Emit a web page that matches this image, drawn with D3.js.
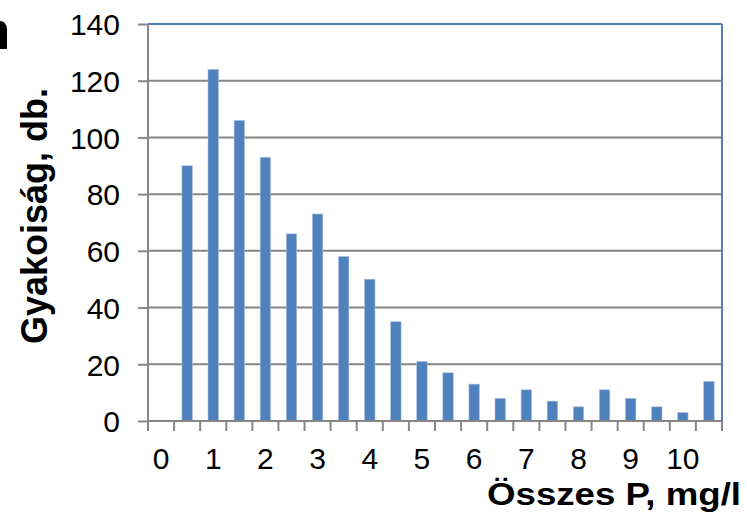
<!DOCTYPE html>
<html>
<head>
<meta charset="utf-8">
<script src="https://cdn.jsdelivr.net/npm/d3@7"></script>
<style>
	body { margin: 0; background: #ffffff; }
	text { font-family: "Liberation Sans", Arial, sans-serif; fill: #000; }
</style>
</head>
<body>
<div id="chart"></div>
<script>
// categories on the x axis (mg/l) and the counts
var categories = [0, 0.5, 1, 1.5, 2, 2.5, 3, 3.5, 4, 4.5, 5, 5.5, 6, 6.5, 7, 7.5, 8, 8.5, 9, 9.5, 10, 10.5];
var counts = [0, 90, 124, 106, 93, 66, 73, 58, 50, 35, 21, 17, 13, 8, 11, 7, 5, 11, 8, 5, 3, 14];
var yTicks = [0, 20, 40, 60, 80, 100, 120, 140];
var xTickLabels = ["0", "1", "2", "3", "4", "5", "6", "7", "8", "9", "10"];

var data = categories.map(function(c, i) { return { cat: c, n: counts[i] }; });

// set the dimensions and margins of the graph
var margin = { top: 24, left: 148, right: 25, bottom: 92 },
	width = 747 - margin.left - margin.right,
	height = 513 - margin.top - margin.bottom;

var svg = d3.select("#chart").append("svg")
	.attr("width", 747)
	.attr("height", 513);

// the cropped edge of a panel letter, only a sliver of it is left at the left border
svg.append("path")
	.attr("d", "M0,21 Q6,21 7,29 L7,49 L0,49 Z")
	.style("fill", "#000");

var g = svg.append("g")
	.attr("transform", "translate(" + margin.left + "," + margin.top + ")");

var x = d3.scaleBand()
	.domain(categories)
	.range([0, width])
	.paddingInner(0.6)
	.paddingOuter(0.3);

var y = d3.scaleLinear()
	.domain([0, 140])
	.range([height, 0]);

// horizontal gridlines
g.selectAll(".grid")
	.data(yTicks.slice(1, -1))
	.enter().append("line")
	.attr("x1", 0)
	.attr("x2", width)
	.attr("y1", d => y(d))
	.attr("y2", d => y(d))
	.style("stroke", "#868686")
	.style("stroke-width", 2);

// bars
g.selectAll("rect")
	.data(data.filter(d => d.n > 0))
	.enter().append("rect")
	.attr("x", d => x(d.cat))
	.attr("width", x.bandwidth())
	.attr("y", d => y(d.n))
	.attr("height", d => y(0) - y(d.n))
	.style("fill", "#4f81bd")
	.style("stroke", "#a9c0df")
	.style("stroke-width", 0.6);

// plot area border: blue on the top and right
g.append("line")
	.attr("x1", 0).attr("x2", width)
	.attr("y1", 0).attr("y2", 0)
	.style("stroke", "#4f81bd")
	.style("stroke-width", 2);
g.append("line")
	.attr("x1", width).attr("x2", width)
	.attr("y1", 0).attr("y2", height)
	.style("stroke", "#4f81bd")
	.style("stroke-width", 2);

// Y axis
var yAxis = g.append("g")
	.call(d3.axisLeft(y).tickValues(yTicks).tickSize(10).tickPadding(18));
yAxis.select(".domain").remove();
yAxis.append("line")
	.attr("x1", 0).attr("x2", 0)
	.attr("y1", 0).attr("y2", height)
	.style("stroke", "#868686")
	.style("stroke-width", 2);
yAxis.selectAll(".tick line").style("stroke", "#868686").style("stroke-width", 2);
yAxis.selectAll(".tick text")
	.style("font-size", "30px")
	.attr("dy", "0.36em");

// X axis: ticks sit between the categories, labels only at whole numbers
var step = x.step();
var xAxis = g.append("g")
	.attr("transform", "translate(0," + height + ")");
xAxis.append("line")
	.attr("x1", 0).attr("x2", width)
	.attr("y1", 0).attr("y2", 0)
	.style("stroke", "#868686")
	.style("stroke-width", 2);
xAxis.selectAll(".xtick")
	.data(d3.range(categories.length + 1))
	.enter().append("line")
	.attr("x1", i => i * step)
	.attr("x2", i => i * step)
	.attr("y1", 0)
	.attr("y2", 10)
	.style("stroke", "#868686")
	.style("stroke-width", 2);
xAxis.selectAll(".xlabel")
	.data(xTickLabels)
	.enter().append("text")
	.attr("x", d => x(+d) + x.bandwidth() / 2)
	.attr("y", 48)
	.style("text-anchor", "middle")
	.style("font-size", "30px")
	.text(d => d);

// Label for X Axis (a little wider than the font, like the stretched original)
svg.append("text")
	.attr("x", 741)
	.attr("y", 505)
	.attr("textLength", 254)
	.attr("lengthAdjust", "spacingAndGlyphs")
	.style("text-anchor", "end")
	.style("font-weight", "bold")
	.style("font-size", "32px")
	.text("Összes P, mg/l");

// Label for Y Axis
svg.append("text")
	.attr("transform", "translate(47," + 216 + ") rotate(-90)")
	.style("text-anchor", "middle")
	.style("font-weight", "bold")
	.style("font-size", "36px")
	.text("Gyakoiság, db.");
</script>
</body>
</html>
